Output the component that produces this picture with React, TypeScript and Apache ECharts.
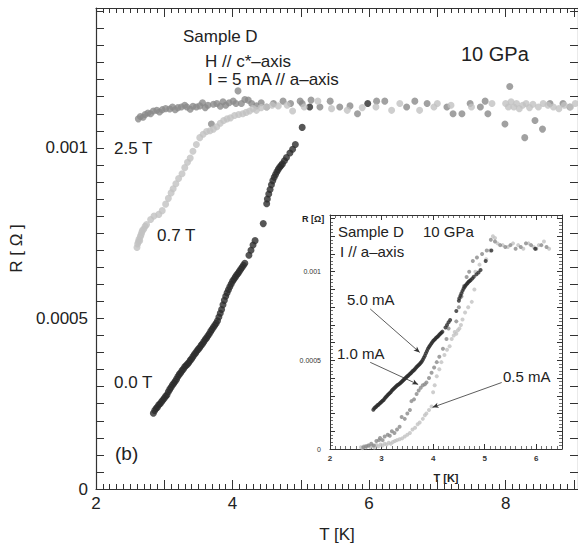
import React, { useEffect, useRef } from "react";
import * as echarts from "echarts";

// ---------- main panel data: R [Ohm] vs T [K], I = 5 mA ----------
const field00T: number[][] = [
  [2.84, 0.000222], [2.86, 0.00023], [2.88, 0.000236], [2.9, 0.00024], [2.92, 0.000247], [2.94, 0.00025],
  [2.96, 0.000256], [2.98, 0.000261], [3.0, 0.000266], [3.02, 0.000272], [3.04, 0.000276], [3.06, 0.000285],
  [3.08, 0.000292], [3.1, 0.000298], [3.12, 0.000305], [3.14, 0.00031], [3.16, 0.000316], [3.18, 0.000322],
  [3.2, 0.00033], [3.22, 0.000336], [3.24, 0.000341], [3.26, 0.000347], [3.28, 0.000352], [3.3, 0.000358],
  [3.32, 0.000362], [3.34, 0.000366], [3.36, 0.000371], [3.38, 0.000377], [3.4, 0.000382], [3.42, 0.000388],
  [3.44, 0.000394], [3.46, 0.000399], [3.48, 0.000405], [3.5, 0.00041], [3.52, 0.000415], [3.54, 0.000421],
  [3.56, 0.000426], [3.58, 0.000432], [3.6, 0.000438], [3.62, 0.000443], [3.64, 0.000449], [3.66, 0.000455],
  [3.68, 0.000462], [3.7, 0.000468], [3.72, 0.000474], [3.74, 0.00048], [3.76, 0.000486], [3.78, 0.000493],
  [3.8, 0.000504], [3.82, 0.000515], [3.84, 0.000526], [3.86, 0.00054], [3.88, 0.000553], [3.9, 0.000565],
  [3.92, 0.000575], [3.94, 0.000584], [3.96, 0.000593], [3.98, 0.000601], [4.0, 0.000609], [4.02, 0.000615],
  [4.04, 0.000621], [4.06, 0.000627], [4.08, 0.000632], [4.1, 0.000638], [4.12, 0.000644], [4.14, 0.00065],
  [4.16, 0.000656], [4.18, 0.000662], [4.24, 0.000685], [4.27, 0.0007], [4.3, 0.000715], [4.33, 0.000728],
  [4.45, 0.000778], [4.5, 0.000836], [4.51, 0.00085], [4.53, 0.000865], [4.55, 0.000878], [4.57, 0.000892],
  [4.59, 0.000904], [4.61, 0.000914], [4.63, 0.000922], [4.65, 0.00093], [4.67, 0.000937], [4.69, 0.000943],
  [4.71, 0.000948], [4.73, 0.000953], [4.76, 0.000962], [4.79, 0.000972], [4.84, 0.000985], [4.88, 0.000996],
  [4.92, 0.00101], [5.02, 0.00106], [5.13, 0.00112], [5.98, 0.00113]
];

const field07T: number[][] = [
  [2.6, 0.000708], [2.61, 0.000718], [2.62, 0.000725], [2.63, 0.000732], [2.64, 0.000728], [2.65, 0.00074],
  [2.66, 0.000745], [2.67, 0.000752], [2.68, 0.000758], [2.7, 0.000762], [2.72, 0.00077], [2.74, 0.000775],
  [2.8, 0.00079], [2.85, 0.0008], [2.92, 0.000805], [2.97, 0.000816], [3.02, 0.000835], [3.06, 0.000852],
  [3.1, 0.000868], [3.13, 0.00088], [3.17, 0.000895], [3.21, 0.00091], [3.26, 0.000924], [3.3, 0.000942],
  [3.34, 0.000958], [3.38, 0.00097], [3.42, 0.00099], [3.47, 0.00101], [3.52, 0.00103], [3.57, 0.00104],
  [3.62, 0.001048], [3.67, 0.00105], [3.72, 0.001055], [3.77, 0.001062], [3.82, 0.001072], [3.87, 0.00108],
  [3.92, 0.001085], [3.97, 0.001088], [4.03, 0.001095], [4.09, 0.001098], [4.15, 0.0011], [4.2, 0.001104],
  [4.25, 0.001108], [4.3, 0.001115], [4.35, 0.00111], [4.42, 0.001118], [4.5, 0.00112], [4.58, 0.001125],
  [4.67, 0.001123], [4.8, 0.001125], [4.88, 0.001108], [5.05, 0.00112], [5.25, 0.001137], [5.45, 0.001115],
  [5.68, 0.00111], [5.9, 0.001118], [6.1, 0.00112], [6.33, 0.00111], [6.45, 0.00113], [6.74, 0.00111],
  [6.95, 0.00112], [7.0, 0.00113], [7.2, 0.001125], [7.5, 0.00112], [7.8, 0.00113], [8.0, 0.00113],
  [8.04, 0.00112], [8.08, 0.001135], [8.12, 0.00112], [8.16, 0.00113], [8.2, 0.001115], [8.25, 0.001125],
  [8.3, 0.00113], [8.35, 0.001118], [8.4, 0.001128], [8.48, 0.00112], [8.55, 0.00113], [8.62, 0.001125],
  [8.7, 0.00112], [8.78, 0.001115], [8.86, 0.001125], [8.95, 0.00112], [9.02, 0.00113]
];

const field25T: number[][] = [
  [2.62, 0.001085], [2.65, 0.001092], [2.69, 0.00109], [2.72, 0.001098], [2.76, 0.001102], [2.8, 0.0011],
  [2.84, 0.001108], [2.89, 0.00111], [2.93, 0.001105], [2.97, 0.001112], [3.02, 0.001115], [3.08, 0.001114],
  [3.12, 0.00112], [3.16, 0.001112], [3.2, 0.001118], [3.25, 0.00112], [3.3, 0.001125], [3.33, 0.00112],
  [3.38, 0.001113], [3.42, 0.001122], [3.47, 0.00112], [3.52, 0.001123], [3.56, 0.001132], [3.6, 0.001118],
  [3.64, 0.001125], [3.69, 0.00107], [3.72, 0.001128], [3.77, 0.00113], [3.82, 0.001122], [3.86, 0.001135],
  [3.9, 0.001125], [3.95, 0.001132], [4.01, 0.001137], [4.05, 0.00113], [4.08, 0.001167], [4.13, 0.00113],
  [4.18, 0.001142], [4.23, 0.00114], [4.28, 0.00113], [4.35, 0.001123], [4.42, 0.001132], [4.5, 0.00112],
  [4.6, 0.00113], [4.74, 0.001137], [4.85, 0.00113], [4.99, 0.001137], [5.02, 0.00113], [5.15, 0.00114],
  [5.28, 0.00112], [5.43, 0.001137], [5.57, 0.00112], [5.72, 0.001123], [5.83, 0.0011], [6.11, 0.001137],
  [6.23, 0.001137], [6.55, 0.00112], [6.67, 0.001137], [6.85, 0.00113], [7.14, 0.00112], [7.23, 0.0011],
  [7.36, 0.0011], [7.48, 0.00113], [7.63, 0.00112], [7.7, 0.001137], [7.74, 0.0011], [7.99, 0.00107],
  [8.06, 0.00118], [8.28, 0.00103], [8.43, 0.00108], [8.54, 0.001055], [8.65, 0.00113], [8.84, 0.00113],
  [8.94, 0.00112]
];

// ---------- inset data: zero field, different currents ----------
const current10mA: number[][] = [
  [2.65, 0.00001], [2.7, 0.000015], [2.75, 0.00002], [2.8, 0.00003], [2.85, 0.00002], [2.9, 0.000045],
  [2.95, 0.00005], [2.97, 0.0000625], [3.02, 0.00005], [3.06, 0.00007], [3.12, 0.00008], [3.16, 0.000075],
  [3.2, 0.0001], [3.25, 0.00009], [3.3, 0.00011], [3.35, 0.000125], [3.39, 0.00018], [3.45, 0.00017],
  [3.5, 0.0002], [3.55, 0.00022], [3.58, 0.00027], [3.63, 0.00028], [3.68, 0.00031], [3.72, 0.00033],
  [3.76, 0.000345], [3.8, 0.00036], [3.84, 0.000365], [3.87, 0.000375], [3.92, 0.0004], [3.97, 0.00043],
  [4.02, 0.00046], [4.07, 0.00049], [4.12, 0.00052], [4.19, 0.000565], [4.26, 0.00062], [4.3, 0.00068],
  [4.45, 0.00072], [4.5, 0.0008], [4.55, 0.00086], [4.6, 0.00092], [4.65, 0.00097], [4.7, 0.001],
  [4.77, 0.00106], [4.85, 0.00108], [4.95, 0.0011], [5.04, 0.00112], [5.12, 0.00118], [5.2, 0.00117],
  [5.3, 0.00115], [5.4, 0.00114], [5.5, 0.00115], [5.6, 0.00113], [5.7, 0.00114], [5.8, 0.00116],
  [5.9, 0.00115], [6.0, 0.00113], [6.1, 0.00115], [6.2, 0.00114]
];

const current05mA: number[][] = [
  [2.6, 0.00001], [2.63, 0.000005], [2.66, 0.000015], [2.7, 0.00001], [2.74, 0.00002], [2.78, 0.000012],
  [2.82, 0.000018], [2.86, 0.000008], [2.9, 0.000022], [2.94, 0.000015], [2.98, 0.000025], [3.02, 0.00002],
  [3.06, 0.00003], [3.1, 0.000025], [3.14, 0.000035], [3.18, 0.00003], [3.22, 0.00004], [3.26, 0.000045],
  [3.3, 0.00005], [3.35, 0.000055], [3.4, 0.00006], [3.45, 0.00007], [3.5, 0.00008], [3.55, 0.00009],
  [3.6, 0.00011], [3.65, 0.00012], [3.7, 0.00014], [3.74, 0.00015], [3.8, 0.00017], [3.84, 0.00019],
  [3.87, 0.0002], [3.92, 0.00022], [3.97, 0.00024], [4.0, 0.00032], [4.03, 0.00036], [4.07, 0.00041],
  [4.12, 0.00045], [4.16, 0.00049], [4.22, 0.00053], [4.27, 0.00056], [4.32, 0.00058], [4.36, 0.00062],
  [4.4, 0.00064], [4.42, 0.00066], [4.45, 0.00065], [4.48, 0.00067], [4.51, 0.00068], [4.54, 0.0007],
  [4.57, 0.00073], [4.62, 0.00077], [4.68, 0.0008], [4.75, 0.00083], [4.8, 0.0009], [4.82, 0.001],
  [4.9, 0.00104], [5.03, 0.00107], [5.1, 0.00112], [5.16, 0.0012], [5.2, 0.00119], [5.25, 0.00116],
  [5.35, 0.00115], [5.45, 0.00114], [5.55, 0.00116], [5.65, 0.00115], [5.75, 0.00113], [5.85, 0.00116],
  [5.95, 0.00114], [6.05, 0.00115], [6.15, 0.00117], [6.25, 0.00113]
];

const mainXLabels = [2, 4, 6, 8];
const mainYLabels = [0, 0.0005, 0.001];
const insetXLabels = [2, 3, 4, 5, 6];
const insetYLabels = [0, 0.0005, 0.001];

const FONT = 'Arial, "Liberation Sans", Helvetica, sans-serif';
const DARK = "#2c2c2c";
const MID = "#8a8a8a";
const LIGHT = "#c2c2c2";
const AXIS = "#333";

const near = (v: number, list: number[]) => list.find((t) => Math.abs(t - v) < 1e-9);

export default function App() {
  const ref = useRef<HTMLDivElement>(null);
  useEffect(() => {
    if (!ref.current) return;
    const chart = echarts.init(ref.current, null, { renderer: "svg" });

    const xAx = (grid: number, pos: string, min: number, max: number, interval: number, len: number, opts: any = {}) => ({
      type: "value", gridIndex: grid, position: pos, min, max, interval,
      axisLine: { show: opts.line !== false, onZero: false, lineStyle: { color: AXIS, width: opts.lw || 1.2 } },
      axisTick: { show: true, inside: true, length: len, lineStyle: { color: AXIS, width: opts.tw || 1 } },
      axisLabel: opts.label ? opts.label : { show: false },
      splitLine: { show: false },
      name: opts.name, nameLocation: "middle", nameGap: opts.nameGap,
      nameTextStyle: opts.nameStyle,
    });
    const yAx = (grid: number, pos: string, min: number, max: number, interval: number, len: number, opts: any = {}) => ({
      ...xAx(grid, pos, min, max, interval, len, opts),
    });

    const mainXLabel = {
      show: true, fontFamily: FONT, fontSize: 17, color: "#222", margin: 6,
      formatter: (v: number) => { const m = near(v, mainXLabels); return m === undefined ? "" : String(m); },
    };
    const mainYLabel = {
      show: true, fontFamily: FONT, fontSize: 17, color: "#222", margin: 8,
      formatter: (v: number) => { const m = near(v, mainYLabels); return m === undefined ? "" : String(m); },
    };
    const insetXLabel = {
      show: true, fontFamily: FONT, fontSize: 8, fontWeight: "bold", color: "#333", margin: 5,
      formatter: (v: number) => { const m = near(v, insetXLabels); return m === undefined ? "" : String(m); },
    };
    const insetYLabel = {
      show: true, fontFamily: FONT, fontSize: 7, color: "#333", margin: 9,
      formatter: (v: number) => { const m = near(v, insetYLabels); return m === undefined ? "" : String(m); },
    };

    const arrow = (from: number[], to: number[]) => [
      { coord: from, symbol: "none" },
      { coord: to, symbol: "arrow", symbolSize: [4, 6] },
    ];

    const option: any = {
      animation: false,
      backgroundColor: "#fff",
      grid: [
        { left: 96, top: 8, width: 482, height: 481, show: false, outerBoundsMode: "none", containLabel: false },
        { left: 330, top: 215, width: 232, height: 234, show: true, backgroundColor: "#fff", borderWidth: 0, outerBoundsMode: "none", containLabel: false },
      ],
      xAxis: [
        xAx(0, "bottom", 2, 9.06, 1, 9, { label: mainXLabel, name: "T [K]", nameGap: 37, nameStyle: { fontFamily: FONT, fontSize: 17, color: "#222" } }),
        xAx(0, "bottom", 2, 9.06, 0.1, 5, { line: false }),
        xAx(0, "top", 2, 9.06, 1, 9),
        xAx(0, "top", 2, 9.06, 0.1, 5, { line: false }),
        xAx(1, "bottom", 2, 6.5, 1, 5, { label: insetXLabel, lw: 1, name: "T [K]", nameGap: 23, nameStyle: { fontFamily: FONT, fontSize: 11, fontWeight: "bold", color: "#222" } }),
        xAx(1, "bottom", 2, 6.5, 0.1, 3, { line: false, tw: 0.7 }),
        xAx(1, "top", 2, 6.5, 1, 5, { lw: 1 }),
        xAx(1, "top", 2, 6.5, 0.1, 3, { line: false, tw: 0.7 }),
      ],
      yAxis: [
        yAx(0, "left", 0, 0.00141, 0.00005, 8, { label: mainYLabel, name: "R [ Ω ]", nameGap: 70, nameStyle: { fontFamily: FONT, fontSize: 17, color: "#222" } }),
        yAx(0, "right", 0, 0.00141, 0.00005, 8),
        yAx(1, "left", 0, 0.00132, 0.0001, 5, { label: insetYLabel, lw: 1 }),
        yAx(1, "left", 0, 0.00132, 0.00002, 3, { line: false, tw: 0.7 }),
        yAx(1, "right", 0, 0.00132, 0.0001, 5, { lw: 1 }),
        yAx(1, "right", 0, 0.00132, 0.00002, 3, { line: false, tw: 0.7 }),
      ],
      series: [
        { type: "scatter", name: "0.0 T", xAxisIndex: 0, yAxisIndex: 0, data: field00T, symbolSize: 7, itemStyle: { color: DARK }, silent: true },
        { type: "scatter", name: "2.5 T", xAxisIndex: 0, yAxisIndex: 0, data: field25T, symbolSize: 7, itemStyle: { color: MID }, silent: true },
        { type: "scatter", name: "0.7 T", xAxisIndex: 0, yAxisIndex: 0, data: field07T, symbolSize: 7, itemStyle: { color: LIGHT }, silent: true },
        {
          type: "scatter", name: "0.5 mA", xAxisIndex: 4, yAxisIndex: 2, data: current05mA, symbolSize: 4,
          itemStyle: { color: LIGHT }, silent: true, clip: true,
          markLine: { silent: true, animation: false, lineStyle: { color: "#333", width: 0.8, type: "solid" }, label: { show: false },
            data: [arrow([5.33, 0.000375], [3.99, 0.000235])] },
        },
        {
          type: "scatter", name: "1.0 mA", xAxisIndex: 4, yAxisIndex: 2, data: current10mA, symbolSize: 4,
          itemStyle: { color: MID }, silent: true, clip: true,
          markLine: { silent: true, animation: false, lineStyle: { color: "#333", width: 0.8, type: "solid" }, label: { show: false },
            data: [arrow([2.78, 0.000489], [3.71, 0.000364])] },
        },
        {
          type: "scatter", name: "5.0 mA", xAxisIndex: 4, yAxisIndex: 2, data: field00T.filter((p) => p[0] <= 6.5), symbolSize: 4,
          itemStyle: { color: DARK }, silent: true, clip: true,
          markLine: { silent: true, animation: false, lineStyle: { color: "#333", width: 0.8, type: "solid" }, label: { show: false },
            data: [arrow([2.78, 0.00079], [3.74, 0.000545])] },
        },
      ],
      graphic: [
        { type: "text", left: 183, top: 28, style: { text: "Sample D", font: `17px ${FONT}`, fill: "#222" } },
        { type: "text", left: 205, top: 53, style: { text: "H // c*–axis", font: `17px ${FONT}`, fill: "#222" } },
        { type: "text", left: 208, top: 71, style: { text: "I = 5 mA // a–axis", font: `17px ${FONT}`, fill: "#222" } },
        { type: "text", left: 461, top: 44, style: { text: "10 GPa", font: `20px ${FONT}`, fill: "#222" } },
        { type: "text", left: 114, top: 140, style: { text: "2.5 T", font: `17px ${FONT}`, fill: "#222" } },
        { type: "text", left: 157, top: 227, style: { text: "0.7 T", font: `17px ${FONT}`, fill: "#222" } },
        { type: "text", left: 114, top: 374, style: { text: "0.0 T", font: `17px ${FONT}`, fill: "#222" } },
        { type: "text", left: 115, top: 444, style: { text: "(b)", font: `19px ${FONT}`, fill: "#222" } },
        { type: "text", left: 302, top: 214, style: { text: "R [Ω]", font: `bold 9px ${FONT}`, fill: "#222" } },
        { type: "text", left: 338, top: 224, style: { text: "Sample D", font: `15px ${FONT}`, fill: "#222" } },
        { type: "text", left: 423, top: 224, style: { text: "10 GPa", font: `15px ${FONT}`, fill: "#222" } },
        { type: "text", left: 340, top: 244, style: { text: "I // a–axis", font: `15px ${FONT}`, fill: "#222" } },
        { type: "text", left: 347, top: 292, style: { text: "5.0 mA", font: `15px ${FONT}`, fill: "#222" } },
        { type: "text", left: 337, top: 346, style: { text: "1.0 mA", font: `15px ${FONT}`, fill: "#222" } },
        { type: "text", left: 503, top: 369, style: { text: "0.5 mA", font: `15px ${FONT}`, fill: "#222" } },
      ],
    };
    chart.setOption(option);
    return () => chart.dispose();
  }, []);
  return <div ref={ref} style={{ position: "fixed", left: 0, top: 0, width: 578, height: 544 }} />;
}
